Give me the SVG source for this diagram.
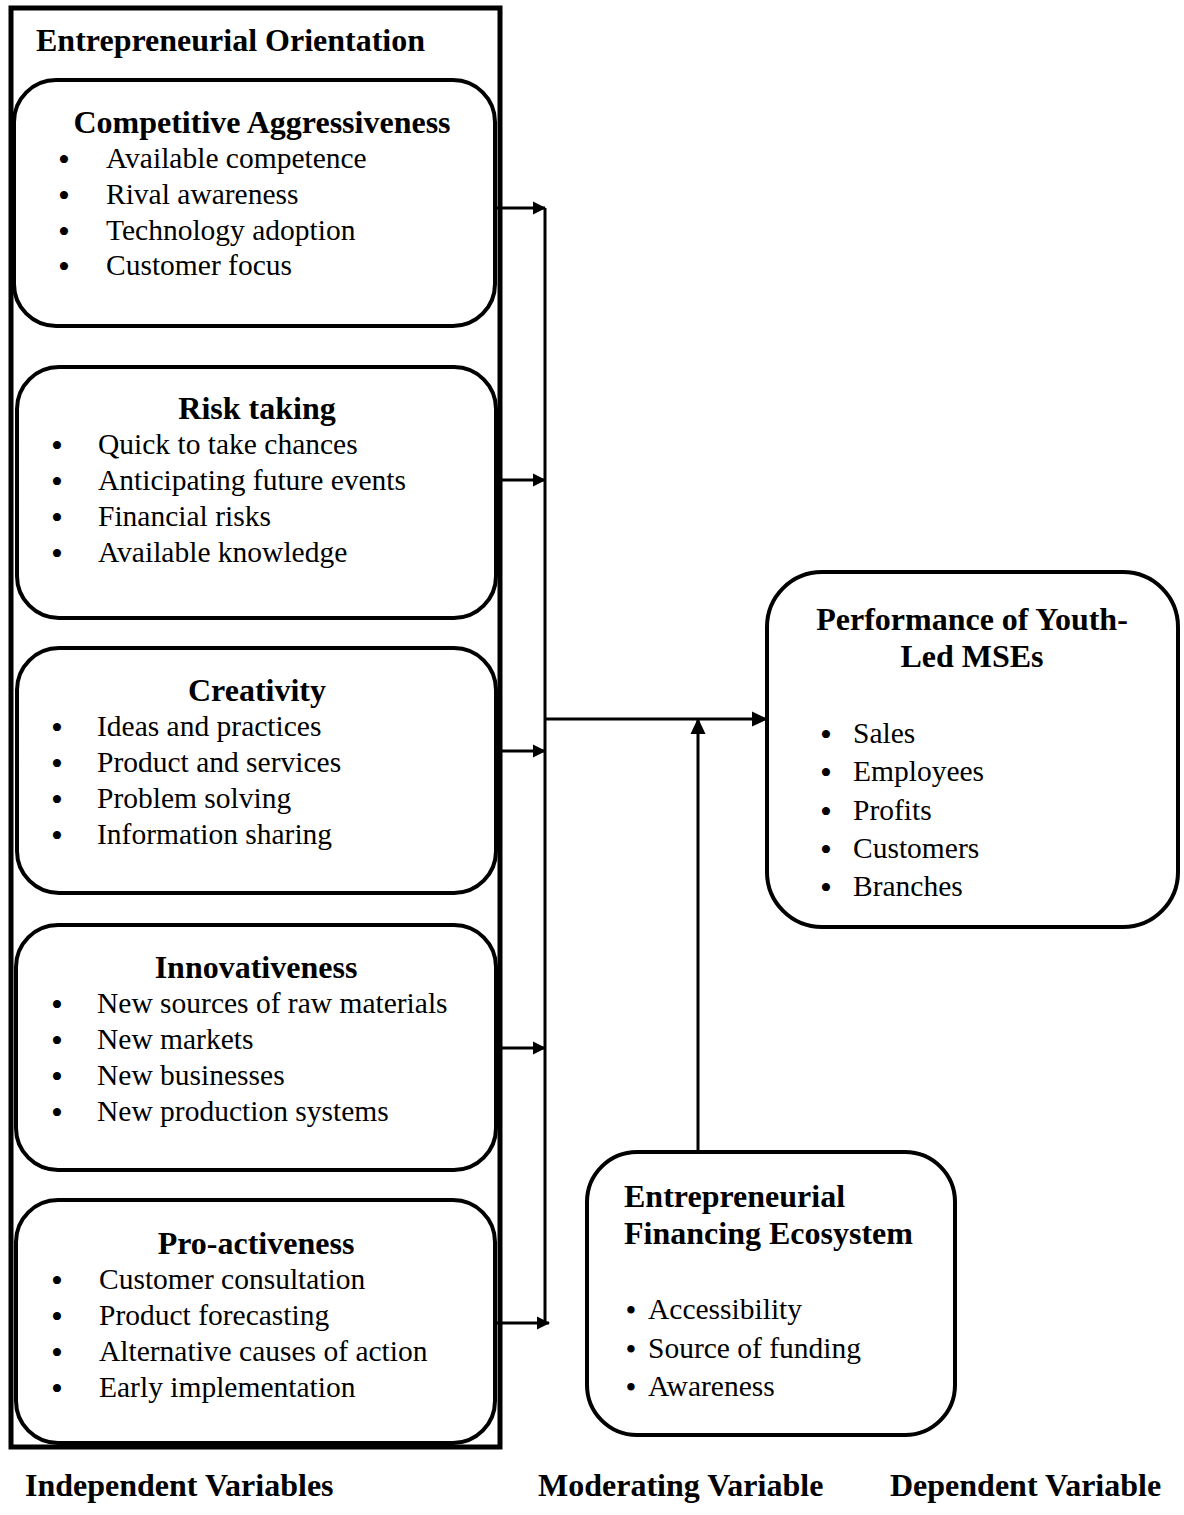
<svg xmlns="http://www.w3.org/2000/svg" width="1184" height="1515" viewBox="0 0 1184 1515">
<defs>
<marker id="ah" markerWidth="13" markerHeight="14" refX="12" refY="7" orient="auto" markerUnits="userSpaceOnUse">
<path d="M0,0.5 L13,7 L0,13.5 Z" fill="#000"/>
</marker>
<marker id="ahb" markerWidth="16" markerHeight="16" refX="15" refY="8" orient="auto" markerUnits="userSpaceOnUse">
<path d="M0,0.5 L16,8 L0,15.5 Z" fill="#000"/>
</marker>
<style>
.box{fill:#fff;stroke:#000;stroke-width:4}
.t{font-family:"Liberation Serif","Times New Roman",serif;font-size:29.5px;fill:#000}
.d{font-family:"Liberation Serif","Times New Roman",serif;font-size:34px;fill:#000;text-anchor:middle}
.ds{font-family:"Liberation Serif","Times New Roman",serif;font-size:31px;fill:#000;text-anchor:middle}
.b{font-family:"Liberation Serif","Times New Roman",serif;font-size:32px;font-weight:bold;fill:#000}
.ln{stroke:#000;stroke-width:3;fill:none}
</style>
</defs>
<rect width="1184" height="1515" fill="#fff"/>
<g id="orientation">
<rect x="11" y="8" width="489" height="1439" fill="none" stroke="#000" stroke-width="5"/>
<text class="b" x="36" y="51">Entrepreneurial Orientation</text>
</g>
<g id="competitive">
<rect class="box" x="14" y="80" width="481" height="246" rx="42"/>
<text class="b" x="262" y="133" text-anchor="middle">Competitive Aggressiveness</text>
<text class="d" x="64" y="171">•</text><text class="t" x="106" y="168">Available competence</text>
<text class="d" x="64" y="207">•</text><text class="t" x="106" y="204">Rival awareness</text>
<text class="d" x="64" y="243">•</text><text class="t" x="106" y="240">Technology adoption</text>
<text class="d" x="64" y="278">•</text><text class="t" x="106" y="275">Customer focus</text>
</g>
<g id="risk">
<rect class="box" x="17" y="367" width="479" height="251" rx="42"/>
<text class="b" x="257" y="419" text-anchor="middle">Risk taking</text>
<text class="d" x="57" y="457">•</text><text class="t" x="98" y="454">Quick to take chances</text>
<text class="d" x="57" y="493">•</text><text class="t" x="98" y="490">Anticipating future events</text>
<text class="d" x="57" y="529">•</text><text class="t" x="98" y="526">Financial risks</text>
<text class="d" x="57" y="565">•</text><text class="t" x="98" y="562">Available knowledge</text>
</g>
<g id="creativity">
<rect class="box" x="17" y="648" width="479" height="245" rx="42"/>
<text class="b" x="257" y="701" text-anchor="middle">Creativity</text>
<text class="d" x="57" y="739">•</text><text class="t" x="97" y="736">Ideas and practices</text>
<text class="d" x="57" y="775">•</text><text class="t" x="97" y="772">Product and services</text>
<text class="d" x="57" y="811">•</text><text class="t" x="97" y="808">Problem solving</text>
<text class="d" x="57" y="847">•</text><text class="t" x="97" y="844">Information sharing</text>
</g>
<g id="innovativeness">
<rect class="box" x="16" y="925" width="480" height="245" rx="42"/>
<text class="b" x="256" y="978" text-anchor="middle">Innovativeness</text>
<text class="d" x="57" y="1016">•</text><text class="t" x="97" y="1013">New sources of raw materials</text>
<text class="d" x="57" y="1052">•</text><text class="t" x="97" y="1049">New markets</text>
<text class="d" x="57" y="1088">•</text><text class="t" x="97" y="1085">New businesses</text>
<text class="d" x="57" y="1124">•</text><text class="t" x="97" y="1121">New production systems</text>
</g>
<g id="proactiveness">
<rect class="box" x="16" y="1200" width="479" height="243" rx="42"/>
<text class="b" x="256" y="1254" text-anchor="middle">Pro-activeness</text>
<text class="d" x="57" y="1292">•</text><text class="t" x="99" y="1289">Customer consultation</text>
<text class="d" x="57" y="1328">•</text><text class="t" x="99" y="1325">Product forecasting</text>
<text class="d" x="57" y="1364">•</text><text class="t" x="99" y="1361">Alternative causes of action</text>
<text class="d" x="57" y="1400">•</text><text class="t" x="99" y="1397">Early implementation</text>
</g>
<g id="performance">
<rect class="box" x="767" y="572" width="411" height="355" rx="55"/>
<text class="b" x="972" y="630" text-anchor="middle">Performance of Youth-</text>
<text class="b" x="972" y="667" text-anchor="middle">Led MSEs</text>
<text class="d" x="826" y="746">•</text><text class="t" x="853" y="743">Sales</text>
<text class="d" x="826" y="784">•</text><text class="t" x="853" y="781">Employees</text>
<text class="d" x="826" y="823">•</text><text class="t" x="853" y="820">Profits</text>
<text class="d" x="826" y="861">•</text><text class="t" x="853" y="858">Customers</text>
<text class="d" x="826" y="899">•</text><text class="t" x="853" y="896">Branches</text>
</g>
<g id="financing">
<rect class="box" x="587" y="1152" width="368" height="283" rx="50"/>
<text class="b" x="624" y="1207">Entrepreneurial</text>
<text class="b" x="624" y="1244">Financing Ecosystem</text>
<text class="ds" x="631" y="1321">•</text><text class="t" x="648" y="1319">Accessibility</text>
<text class="ds" x="631" y="1360">•</text><text class="t" x="648" y="1358">Source of funding</text>
<text class="ds" x="631" y="1398">•</text><text class="t" x="648" y="1396">Awareness</text>
</g>
<g id="labels">
<text class="b" x="25" y="1496">Independent Variables</text>
<text class="b" x="538" y="1496">Moderating Variable</text>
<text class="b" x="890" y="1496">Dependent Variable</text>
</g>
<g id="connectors">
<line class="ln" x1="497" y1="208" x2="545" y2="208" marker-end="url(#ah)"/>
<line class="ln" x1="497" y1="480" x2="545" y2="480" marker-end="url(#ah)"/>
<line class="ln" x1="497" y1="751" x2="545" y2="751" marker-end="url(#ah)"/>
<line class="ln" x1="497" y1="1048" x2="545" y2="1048" marker-end="url(#ah)"/>
<line class="ln" x1="497" y1="1323" x2="549" y2="1323" marker-end="url(#ah)"/>
<line class="ln" x1="545" y1="208" x2="545" y2="1323"/>
<line class="ln" x1="545" y1="719" x2="767" y2="719" marker-end="url(#ahb)"/>
<line class="ln" x1="698" y1="1152" x2="698" y2="719" marker-end="url(#ahb)"/>
</g>
</svg>
